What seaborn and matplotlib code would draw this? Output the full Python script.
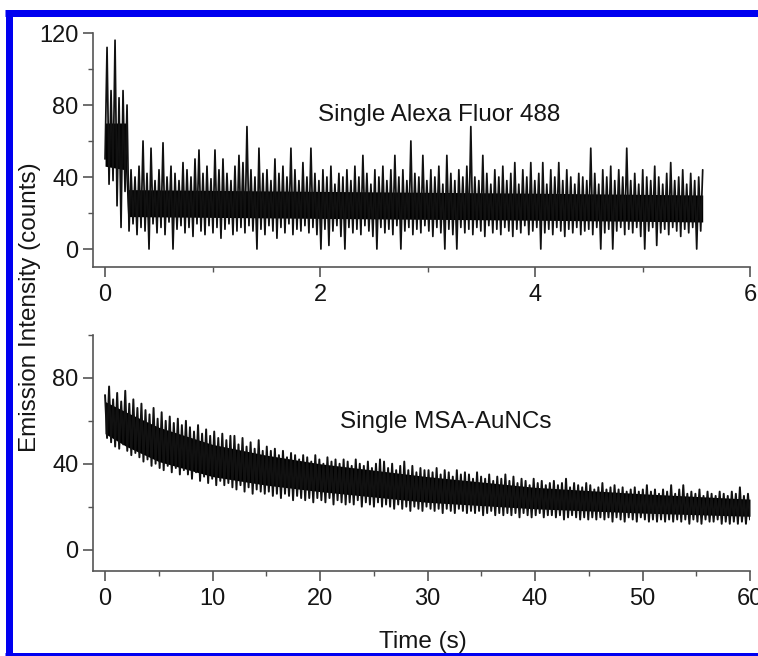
import numpy as np
import pandas as pd
import matplotlib
matplotlib.use("Agg")
import matplotlib.pyplot as plt
import seaborn as sns
from matplotlib.ticker import MultipleLocator
from matplotlib.lines import Line2D

# ---------------- data ----------------
TOP_END = 5.56      # s, end of the Alexa Fluor 488 trace
BOTTOM_END = 60.0   # s, end of the MSA-AuNCs trace

alexa_counts = [
    50, 112, 36, 88, 38, 116, 24, 84, 12, 88, 32, 80, 10, 44, 14, 40, 8, 46, 12, 60,
    10, 42, 0, 56, 14, 38, 9, 44, 12, 59, 8, 40, 15, 46, 0, 42, 11, 38, 13, 48,
    9, 44, 12, 40, 7, 50, 14, 55, 10, 42, 8, 46, 13, 39, 9, 55, 12, 44, 6, 50,
    11, 42, 14, 38, 8, 46, 10, 52, 12, 48, 9, 68, 13, 44, 10, 40, 0, 56, 11, 42,
    8, 44, 13, 38, 10, 50, 6, 42, 12, 46, 9, 40, 14, 56, 8, 44, 11, 38, 10, 48,
    13, 40, 9, 56, 12, 42, 8, 38, 0, 44, 11, 40, 2, 46, 10, 36, 13, 42, 7, 40,
    0, 44, 12, 38, 9, 46, 11, 40, 8, 52, 13, 42, 10, 36, 7, 44, 0, 40, 12, 46,
    9, 38, 11, 44, 8, 52, 13, 40, 0, 44, 10, 38, 12, 60, 8, 42, 11, 40, 9, 52,
    13, 38, 10, 44, 7, 40, 12, 46, 9, 36, 0, 52, 11, 42, 8, 38, 0, 44, 12, 40,
    9, 46, 11, 68, 8, 40, 12, 38, 10, 52, 7, 42, 13, 36, 9, 44, 11, 40, 8, 46,
    12, 38, 10, 42, 7, 48, 11, 36, 9, 44, 13, 40, 8, 48, 10, 38, 12, 42, 0, 48,
    9, 36, 11, 44, 8, 40, 12, 48, 10, 38, 7, 44, 11, 40, 9, 36, 12, 42, 8, 40,
    10, 38, 11, 56, 8, 42, 12, 36, 0, 44, 9, 40, 11, 46, 0, 38, 10, 44, 12, 40,
    8, 56, 11, 38, 9, 42, 12, 36, 7, 44, 0, 40, 10, 38, 12, 46, 2, 40, 9, 36,
    11, 42, 8, 48, 12, 38, 10, 40, 7, 44, 11, 36, 9, 42, 12, 38, 0, 40, 10, 44,
]

# dense (solid black) core of the Alexa trace
alexa_core_t = [0.0, 0.19, 0.21, 2.0, 4.0, 5.56]
alexa_core_lo = [46, 44, 18, 17, 16, 15]
alexa_core_hi = [70, 70, 33, 32, 31, 30]

aunc_counts = [
    72, 52, 76, 50, 70, 48, 73, 47, 69, 49, 74, 46, 68, 44, 70, 45, 66, 43, 68, 41,
    65, 42, 63, 39, 66, 40, 61, 38, 64, 37, 60, 39, 62, 36, 59, 38, 61, 35, 58, 37,
    60, 35, 57, 33, 55, 36, 58, 32, 54, 34, 56, 31, 53, 33, 55, 30, 52, 32, 54, 30,
    51, 31, 53, 29, 53, 28, 49, 30, 52, 27, 48, 29, 50, 26, 47, 28, 51, 27, 46, 26,
    48, 27, 46, 25, 47, 26, 44, 24, 46, 26, 43, 25, 45, 23, 44, 25, 42, 24, 44, 23,
    43, 24, 41, 22, 44, 24, 42, 23, 40, 22, 43, 24, 41, 21, 42, 23, 40, 22, 42, 21,
    41, 22, 39, 21, 42, 23, 40, 20, 39, 22, 41, 21, 38, 20, 40, 22, 42, 20, 41, 21,
    38, 20, 40, 19, 37, 21, 39, 19, 41, 20, 37, 18, 39, 20, 36, 19, 38, 18, 37, 20,
    37, 19, 36, 18, 38, 19, 35, 17, 37, 19, 36, 18, 34, 17, 37, 19, 35, 18, 36, 17,
    35, 18, 33, 17, 36, 18, 34, 16, 33, 17, 35, 18, 32, 16, 34, 17, 33, 16, 35, 17,
    32, 16, 34, 17, 31, 15, 33, 17, 32, 16, 30, 15, 33, 16, 31, 17, 32, 15, 30, 16,
    31, 16, 32, 15, 30, 16, 31, 14, 33, 15, 29, 16, 31, 15, 30, 14, 29, 15, 31, 14,
    30, 15, 28, 14, 29, 15, 31, 14, 28, 15, 29, 13, 30, 15, 28, 14, 29, 13, 27, 15,
    28, 14, 29, 13, 27, 15, 28, 14, 30, 13, 27, 14, 28, 13, 26, 14, 28, 13, 27, 14,
    30, 13, 26, 14, 28, 13, 30, 14, 26, 12, 27, 14, 26, 13, 28, 12, 25, 14, 27, 13,
    26, 13, 25, 14, 27, 12, 26, 13, 25, 12, 27, 13, 26, 12, 29, 13, 25, 12, 26, 14,
]

# dense (solid black) core of the AuNC trace
aunc_core_t = [0, 2, 5, 10, 15, 20, 30, 40, 50, 60]
aunc_core_lo = [54, 48, 41, 34, 30, 27, 22, 19, 17, 15.5]
aunc_core_hi = [69, 64, 57, 49, 44, 40, 34, 29, 26, 23.5]

top_label = "Single Alexa Fluor 488"
bottom_label = "Single MSA-AuNCs"
x_label = "Time (s)"
y_label = "Emission Intensity (counts)"

top_xticks = [0, 2, 4, 6]
top_yticks = [0, 40, 80, 120]
bottom_xticks = [0, 10, 20, 30, 40, 50, 60]
bottom_yticks = [0, 40, 80]

# ---------------- style ----------------
sns.set_theme(style="ticks")
plt.rcParams["font.family"] = ["Liberation Sans", "DejaVu Sans"]

W, H = 758, 656
fig = plt.figure(figsize=(W / 100, H / 100), dpi=100)
fig.patch.set_facecolor("white")

def frac_rect(left, top, right, bottom):
    return [left / W, 1 - bottom / H, (right - left) / W, (bottom - top) / H]

ax1 = fig.add_axes(frac_rect(93, 33, 750, 267))
ax2 = fig.add_axes(frac_rect(93, 335, 750, 571))

df_top = pd.DataFrame({"t": np.linspace(0, TOP_END, len(alexa_counts)),
                       "c": alexa_counts})
df_bot = pd.DataFrame({"t": np.linspace(0, BOTTOM_END, len(aunc_counts)),
                       "c": aunc_counts})

ax1.fill_between(alexa_core_t, alexa_core_lo, alexa_core_hi,
                 color="black", lw=0)
ax2.fill_between(aunc_core_t, aunc_core_lo, aunc_core_hi,
                 color="black", lw=0)

sns.lineplot(data=df_top, x="t", y="c", ax=ax1, color="#111111", lw=1.25,
             estimator=None, sort=False)
sns.lineplot(data=df_bot, x="t", y="c", ax=ax2, color="#111111", lw=1.4,
             estimator=None, sort=False)

spine_col = "#555555"
for ax in (ax1, ax2):
    sns.despine(ax=ax)
    for s in ("left", "bottom"):
        ax.spines[s].set_color(spine_col)
        ax.spines[s].set_linewidth(1.2)
    ax.set_xlabel("")
    ax.set_ylabel("")
    ax.tick_params(which="major", direction="out", length=7, width=1.2,
                   color=spine_col, labelsize=17, labelcolor="#151515")
    ax.tick_params(which="minor", direction="out", length=3.5, width=1.0,
                   color=spine_col)
    ax.tick_params(axis="x", which="major", pad=5)
    ax.tick_params(axis="y", which="major", pad=3.5)
    ax.grid(False)

ax1.set_xlim(-0.112, 6.0)
ax1.set_ylim(-10, 120)
ax1.set_xticks(top_xticks)
ax1.set_yticks(top_yticks)
ax1.xaxis.set_minor_locator(MultipleLocator(1))
ax1.yaxis.set_minor_locator(MultipleLocator(20))
ax1.text(1.98, 71, top_label, fontsize=17.5, color="#151515",
         ha="left", va="baseline")

ax2.set_xlim(-1.12, 60.0)
ax2.set_ylim(-10, 100)
ax2.set_xticks(bottom_xticks)
ax2.set_yticks(bottom_yticks)
ax2.xaxis.set_minor_locator(MultipleLocator(5))
ax2.yaxis.set_minor_locator(MultipleLocator(20))
ax2.text(21.9, 56.6, bottom_label, fontsize=17.5, color="#151515",
         ha="left", va="baseline")

fig.text(30 / W, 1 - 307 / H, y_label, rotation=90, fontsize=17.5,
         color="#151515", ha="center", va="center")
fig.text(423 / W, 1 - 648 / H, x_label, fontsize=17.5,
         color="#151515", ha="center", va="baseline")

# blue frame around the figure (right side cut off in the reference)
blue = "#0000F0"
lw_px = 7
lw_pt = lw_px * 72 / 100
fig.add_artist(Line2D([5 / W, 1.01], [1 - 13 / H, 1 - 13 / H],
                      transform=fig.transFigure, color=blue, lw=lw_pt,
                      solid_capstyle="butt"))
fig.add_artist(Line2D([9 / W, 9 / W], [1 - 9.5 / H, 0],
                      transform=fig.transFigure, color=blue, lw=lw_pt,
                      solid_capstyle="butt"))
fig.add_artist(Line2D([5 / W, 1.01], [1 - 656 / H, 1 - 656 / H],
                      transform=fig.transFigure, color=blue, lw=lw_pt,
                      solid_capstyle="butt"))

fig.savefig("out.png", dpi=100)
